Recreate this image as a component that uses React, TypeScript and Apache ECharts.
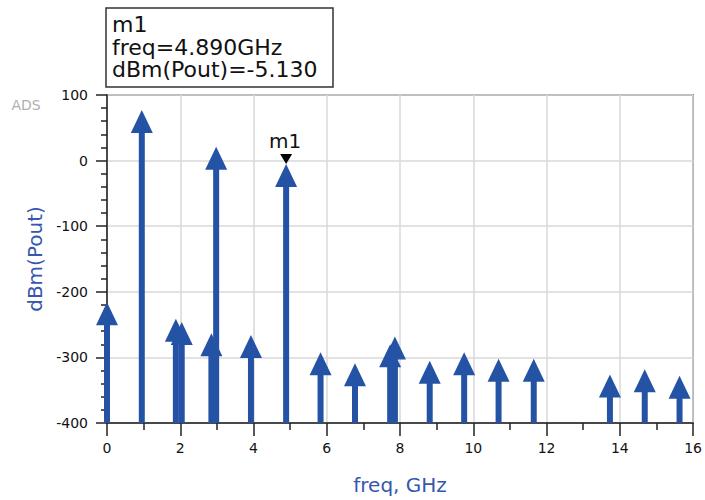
import React, { useEffect, useRef } from "react";
import * as echarts from "echarts";

// Spectrum data (frequency in GHz, output power in dBm)
const FREQ_GHZ = [0.0, 0.95, 1.88, 2.04, 2.85, 2.98, 3.93, 4.89, 5.83, 6.77, 7.73, 7.86, 8.81, 9.75, 10.69, 11.65, 13.73, 14.68, 15.63];
const POUT_DBM = [-216, 77, -241, -246, -263, 21, -266, -5.13, -292, -309, -280, -268, -305, -292, -302, -302, -326, -318, -328];

// Marker m1
const MARKER_NAME = "m1";
const MARKER_FREQ = [4.89];
const MARKER_DBM = [-5.13];

// Axes
const X_MIN = 0;
const X_MAX = 16;
const X_STEP = 2;
const Y_MIN = -400;
const Y_MAX = 100;
const Y_STEP = 100;

const BLUE = "#2453a6";
const FONT = "DejaVu Sans";

export default function App() {
  const ref = useRef<HTMLDivElement>(null);

  useEffect(() => {
    if (!ref.current) return;
    const chart = echarts.init(ref.current, null, { renderer: "svg" });

    const arrowData = FREQ_GHZ.map((f, i) => [f, POUT_DBM[i]]);
    const markerData = MARKER_FREQ.map((f, i) => [f, MARKER_DBM[i]]);

    const markerText = [
      MARKER_NAME,
      `freq=${MARKER_FREQ[0].toFixed(3)}GHz`,
      `dBm(Pout)=${MARKER_DBM[0].toFixed(3)}`,
    ].join("\n");

    const option: any = {
      animation: false,
      backgroundColor: "#ffffff",
      grid: {
        left: 107,
        right: 8,
        top: 95,
        bottom: 77,
        show: true,
        borderColor: "#4a4a4a",
        borderWidth: 1.5,
        backgroundColor: "transparent",
      },
      xAxis: {
        type: "value",
        min: X_MIN,
        max: X_MAX,
        interval: X_STEP,
        name: "freq, GHz",
        nameLocation: "middle",
        nameGap: 52,
        nameTextStyle: { color: "#3656b0", fontSize: 20, fontFamily: FONT },
        axisLine: { show: true, onZero: false, lineStyle: { color: "#222", width: 1.5 } },
        axisTick: { show: true, inside: false, length: 13, lineStyle: { color: "#222", width: 1.5 } },
        minorTick: { show: true, splitNumber: 2, length: 7, lineStyle: { color: "#222", width: 1.5 } },
        axisLabel: { color: "#111", fontSize: 14, fontFamily: FONT, margin: 18 },
        splitLine: { show: true, lineStyle: { color: "#d9d9d9", width: 1.5 } },
      },
      yAxis: {
        type: "value",
        min: Y_MIN,
        max: Y_MAX,
        interval: Y_STEP,
        name: "dBm(Pout)",
        nameLocation: "middle",
        nameGap: 58,
        nameTextStyle: { color: "#3656b0", fontSize: 20, fontFamily: FONT },
        axisLine: { show: true, onZero: false, lineStyle: { color: "#222", width: 1.5 } },
        axisTick: { show: true, inside: false, length: 11, lineStyle: { color: "#222", width: 1.5 } },
        minorTick: { show: true, splitNumber: 5, length: 6, lineStyle: { color: "#222", width: 1.5 } },
        axisLabel: { color: "#111", fontSize: 14, fontFamily: FONT, margin: 19 },
        splitLine: { show: true, lineStyle: { color: "#d9d9d9", width: 1.5 } },
      },
      series: [
        {
          type: "custom",
          name: "dBm(Pout)",
          clip: false,
          data: arrowData,
          encode: { x: 0, y: 1 },
          renderItem: (_params: any, api: any) => {
            const x = api.value(0);
            const y = api.value(1);
            const tip = api.coord([x, y]);
            const base = api.coord([x, Y_MIN]);
            const headH = 23;
            const headW = 22;
            const stemW = 6;
            return {
              type: "group",
              children: [
                {
                  type: "rect",
                  shape: {
                    x: tip[0] - stemW / 2,
                    y: tip[1] + headH - 1,
                    width: stemW,
                    height: Math.max(0, base[1] - tip[1] - headH + 1),
                  },
                  style: { fill: BLUE },
                },
                {
                  type: "polygon",
                  shape: {
                    points: [
                      [tip[0], tip[1]],
                      [tip[0] - headW / 2, tip[1] + headH],
                      [tip[0] + headW / 2, tip[1] + headH],
                    ],
                  },
                  style: { fill: BLUE },
                },
              ],
            };
          },
          z: 3,
        },
        {
          type: "custom",
          name: MARKER_NAME,
          clip: false,
          data: markerData,
          encode: { x: 0, y: 1 },
          renderItem: (_params: any, api: any) => {
            const p = api.coord([api.value(0), api.value(1)]);
            return {
              type: "group",
              children: [
                {
                  type: "polygon",
                  shape: {
                    points: [
                      [p[0], p[1]],
                      [p[0] - 6, p[1] - 10],
                      [p[0] + 6, p[1] - 10],
                    ],
                  },
                  style: { fill: "#000" },
                },
                {
                  type: "text",
                  x: p[0] - 1,
                  y: p[1] - 23,
                  style: {
                    text: MARKER_NAME,
                    fill: "#111",
                    fontSize: 20,
                    fontFamily: FONT,
                    align: "center",
                    verticalAlign: "middle",
                  },
                },
              ],
            };
          },
          z: 4,
        },
      ],
      graphic: [
        {
          type: "rect",
          shape: { x: 106, y: 8, width: 227, height: 79 },
          style: { fill: "#fff", stroke: "#333", lineWidth: 1.5 },
          z: 10,
        },
        {
          type: "text",
          x: 112,
          y: 13,
          style: {
            text: markerText,
            fill: "#111",
            fontSize: 22,
            lineHeight: 22.7,
            fontFamily: FONT,
            align: "left",
            verticalAlign: "top",
          },
          z: 11,
        },
        {
          type: "text",
          x: 26,
          y: 105,
          style: { text: "ADS", fill: "#b0b0b0", fontSize: 14, fontFamily: FONT, align: "center", verticalAlign: "middle" },
          z: 11,
        },
      ],
    };

    chart.setOption(option);
    return () => chart.dispose();
  }, []);

  return (
    <div
      ref={ref}
      style={{ position: "fixed", left: 0, top: 0, width: 705, height: 500, background: "#fff" }}
    />
  );
}
